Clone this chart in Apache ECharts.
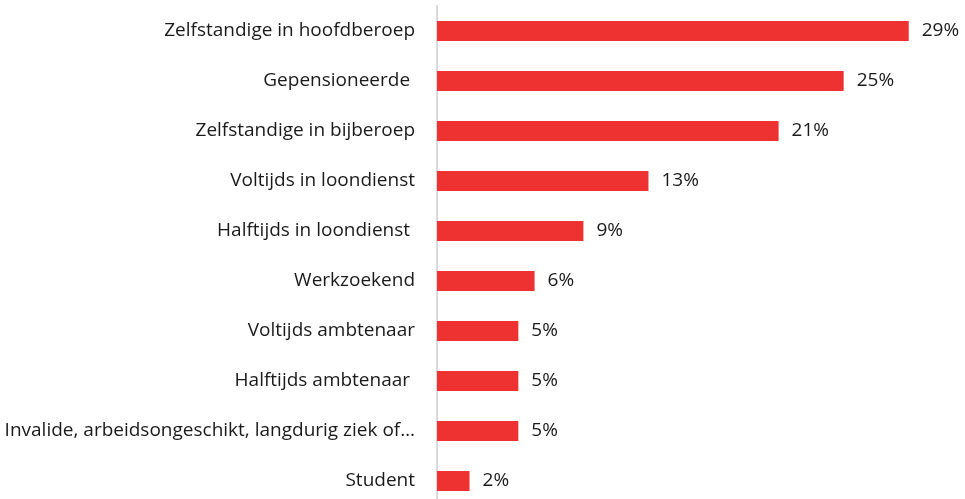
<!DOCTYPE html>
<html>
<head>
<meta charset="utf-8">
<script src="https://cdn.jsdelivr.net/npm/echarts@6/dist/echarts.min.js"></script>
<style>
  html, body { margin: 0; padding: 0; background: #fff; overflow: hidden; }
  /* taller than the window on purpose: the last band runs past the bottom edge */
  #chart { width: 965px; height: 520px; }
</style>
</head>
<body>
<div id="chart"></div>
<script>
// categories, top to bottom as in the picture
const categories = [
  'Zelfstandige in hoofdberoep',
  'Gepensioneerde ',
  'Zelfstandige in bijberoep',
  'Voltijds in loondienst',
  'Halftijds in loondienst ',
  'Werkzoekend',
  'Voltijds ambtenaar',
  'Halftijds ambtenaar ',
  'Invalide, arbeidsongeschikt, langdurig ziek of…',
  'Student'
]
const shares = [29, 25, 21, 13, 9, 6, 5, 5, 5, 2]

const chart = echarts.init(document.getElementById('chart'))

chart.setOption({
  animation: false,
  grid: {
    left: 437,
    top: 6,
    height: 500,
    width: 488
  },
  xAxis: {
    type: 'value',
    min: 0,
    max: 30,
    show: false
  },
  yAxis: {
    type: 'category',
    inverse: true,
    data: categories,
    axisLine: {
      lineStyle: { color: '#d9d9d9', width: 2 }
    },
    axisTick: { show: false },
    axisLabel: {
      margin: 22,
      fontFamily: 'Open Sans',
      fontSize: 19,
      color: '#1a1a1a'
    }
  },
  series: [{
    type: 'bar',
    data: shares,
    barWidth: 20,
    itemStyle: { color: '#ee3131' },
    label: {
      show: true,
      position: 'right',
      distance: 13,
      formatter: '{c}%',
      fontFamily: 'Open Sans',
      fontSize: 19,
      color: '#1a1a1a'
    }
  }]
})
</script>
</body>
</html>
